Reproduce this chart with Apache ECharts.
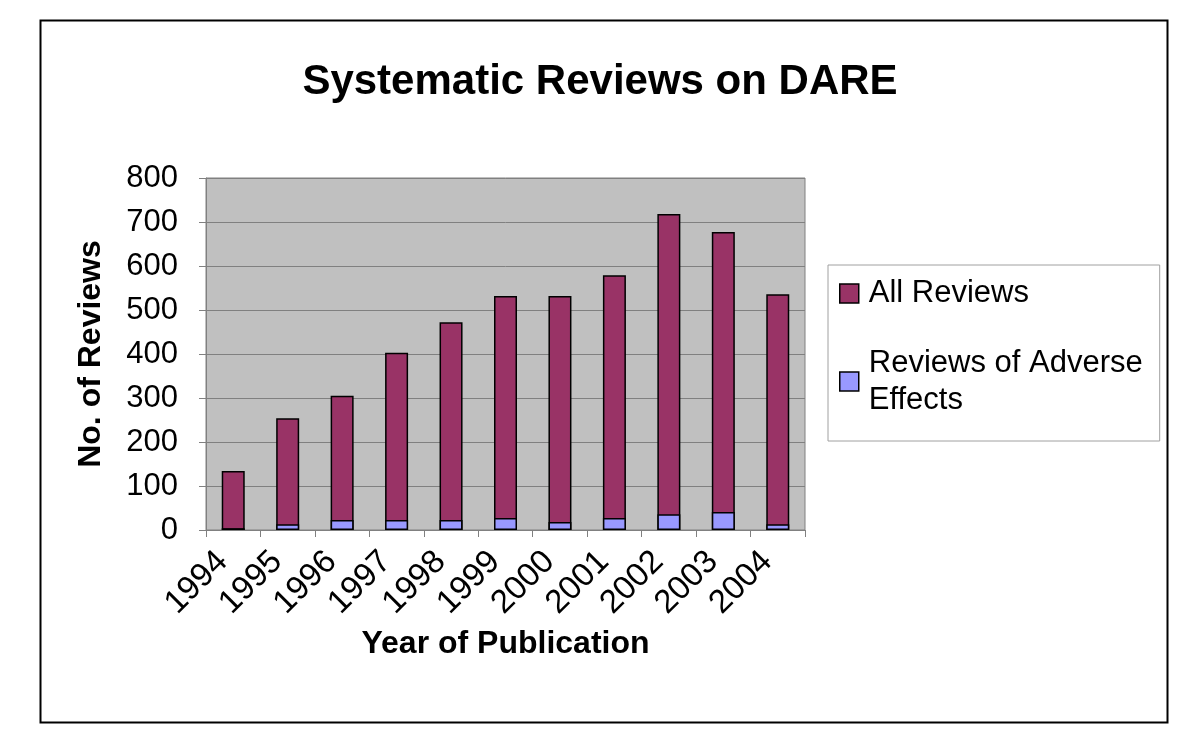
<!DOCTYPE html>
<html>
<head>
<meta charset="utf-8">
<script src="https://cdn.jsdelivr.net/npm/echarts@6/dist/echarts.min.js"></script>
<style>
html,body{margin:0;padding:0;background:#fff;}
#chart{width:1200px;height:756px;}
</style>
</head>
<body>
<div id="chart"></div>
<script>
const years = ['1994','1995','1996','1997','1998','1999','2000','2001','2002','2003','2004'];
const allReviews = [134, 254, 305, 403, 472, 532, 532, 579, 718, 677, 536];
const adverseReviews = [4, 13, 23, 23, 23, 27, 18, 27, 36, 41, 13];
const yTicks = [0, 100, 200, 300, 400, 500, 600, 700, 800];

const FONT = '"Liberation Sans", Arial, sans-serif';
const chart = echarts.init(document.getElementById('chart'));
chart.setOption({
  animation: false,
  backgroundColor: '#fff',
  graphic: [{
    type: 'rect', left: 38, top: 18, z: -10,
    shape: { width: 1127, height: 702 },
    style: { fill: 'none', stroke: '#000', lineWidth: 2 }
  }],
  title: {
    text: 'Systematic Reviews on DARE',
    left: 'center', top: 56,
    textStyle: { fontFamily: FONT, fontWeight: 'bold', fontSize: 42, color: '#000' }
  },
  grid: {
    left: 206, right: 395, top: 178, bottom: 226,
    show: true, backgroundColor: '#C0C0C0', borderColor: '#808080', borderWidth: 1
  },
  legend: {
    orient: 'vertical',
    left: 828, top: 265,
    padding: [10, 17, 4, 11],
    itemGap: 14,
    itemWidth: 19, itemHeight: 19,
    icon: 'rect',
    backgroundColor: '#fff',
    borderColor: '#A0A0A0', borderWidth: 1,
    textStyle: { fontFamily: FONT, fontSize: 31, color: '#000', lineHeight: 37, padding: [0,0,0,5] },
    data: [
      { name: 'All Reviews', itemStyle: { borderColor: '#000', borderWidth: 1.5 } },
      { name: 'Reviews of Adverse Effects', itemStyle: { borderColor: '#000', borderWidth: 1.5 },
        textStyle: { padding: [37, 0, 0, 5] } }
    ],
    formatter: function (n) { return n === 'Reviews of Adverse Effects' ? 'Reviews of Adverse\nEffects' : n; }
  },
  xAxis: {
    type: 'category',
    data: years,
    name: 'Year of Publication',
    nameLocation: 'middle',
    nameGap: 98,
    nameTextStyle: { fontFamily: FONT, fontWeight: 'bold', fontSize: 32, color: '#000' },
    axisLine: { lineStyle: { color: '#808080', width: 1 } },
    axisTick: { show: true, alignWithLabel: false, length: 7, lineStyle: { color: '#808080' } },
    axisLabel: { rotate: 45, fontFamily: FONT, fontSize: 33, color: '#000', margin: 16, interval: 0,
      padding: [0, 15, 0, 0] }
  },
  yAxis: {
    type: 'value',
    min: 0, max: 800, interval: 100,
    name: 'No. of Reviews',
    nameLocation: 'middle',
    nameGap: 99,
    nameRotate: 90,
    nameTextStyle: { fontFamily: FONT, fontWeight: 'bold', fontSize: 32, color: '#000' },
    axisLine: { show: true, lineStyle: { color: '#808080' } },
    axisTick: { show: true, length: 7, lineStyle: { color: '#808080' } },
    axisLabel: { fontFamily: FONT, fontSize: 31, color: '#000', margin: 28,
      formatter: function (v) { return yTicks.indexOf(v) >= 0 ? String(v) : ''; } },
    splitLine: { show: true, lineStyle: { color: '#808080', width: 1 } }
  },
  series: [
    {
      name: 'All Reviews', type: 'bar', data: allReviews,
      barWidth: 23, barGap: '-100%',
      itemStyle: { color: '#993366', borderColor: '#000', borderWidth: 1.5 }
    },
    {
      name: 'Reviews of Adverse Effects', type: 'bar', data: adverseReviews,
      barWidth: 23,
      itemStyle: { color: '#9999FF', borderColor: '#000', borderWidth: 1.5 }
    }
  ]
});
</script>
</body>
</html>
